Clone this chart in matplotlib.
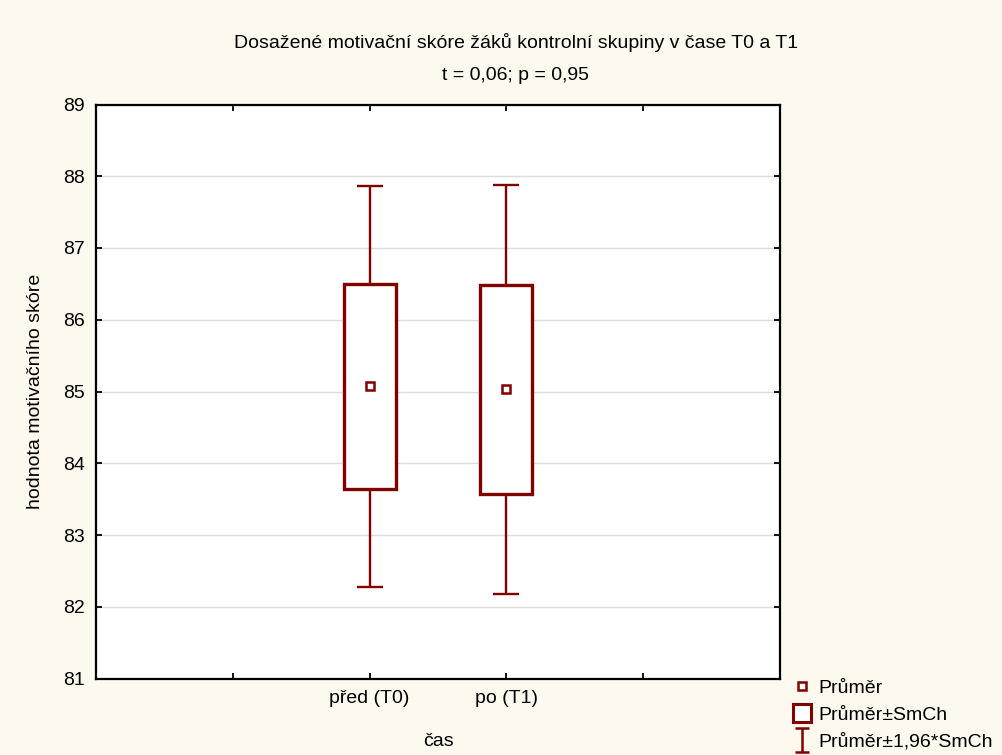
import matplotlib.pyplot as plt
from matplotlib.lines import Line2D
from matplotlib.path import Path
import numpy as np

plt.rcParams['font.family'] = ['Liberation Sans', 'DejaVu Sans']

groups = ["před (T0)", "po (T1)"]
means = [85.07, 85.03]
se = [1.425, 1.455]
positions = [2, 3]

dark_red = "#800000"
bg = "#fef9ee"

fig = plt.figure(figsize=(10.03, 7.55), dpi=100, facecolor=bg)
ax = fig.add_axes([96 / 1003, 1 - 678.5 / 755, (780 - 96) / 1003, (678.5 - 104.5) / 755])
ax.set_facecolor("white")

means = np.array(means)
se = np.array(se)

# whiskers: mean +- 1.96*SE
ax.errorbar(positions, means, yerr=1.96 * se, fmt="none", ecolor=dark_red,
            elinewidth=1.7, capsize=9.7, capthick=1.7, zorder=2)
# boxes: mean +- SE
ax.bar(positions, 2 * se, bottom=means - se, width=0.38, facecolor="white",
       edgecolor=dark_red, linewidth=2.4, zorder=3)
# mean markers
ax.plot(positions, means, linestyle="none", marker="s", markersize=6,
        markerfacecolor="white", markeredgecolor=dark_red, markeredgewidth=1.8, zorder=4)

ax.set_xlim(0, 5)
ax.set_ylim(81, 89)
ax.set_xticks([1, 2, 3, 4])
ax.set_xticklabels([""] + groups + [""])
ax.set_yticks(range(81, 90))
ax.yaxis.grid(True, color="#dcdcdc", linewidth=1.0, zorder=0)
ax.set_axisbelow(True)
ax.tick_params(direction="in", length=4.5, width=1.3, top=True, right=True,
               labelsize=14, pad=8)
for spine in ax.spines.values():
    spine.set_linewidth(1.6)

ax.set_xlabel("čas", fontsize=14, labelpad=19)
ax.set_ylabel("hodnota motivačního skóre", fontsize=14, labelpad=14)

fig.text(516 / 1003, 1 - 42 / 755, "Dosažené motivační skóre žáků kontrolní skupiny v čase T0 a T1",
         ha="center", va="center", fontsize=14)
fig.text(516 / 1003, 1 - 75 / 755, "t = 0,06; p = 0,95", ha="center", va="center", fontsize=14)

# I-beam marker for the +-1.96*SE entry
ibeam = Path([(-0.6, 1), (0.6, 1), (0, 1), (0, -1), (-0.6, -1), (0.6, -1)],
             [Path.MOVETO, Path.LINETO, Path.MOVETO, Path.LINETO, Path.MOVETO, Path.LINETO])
handles = [
    Line2D([], [], linestyle="none", marker="s", markersize=6, markerfacecolor="white",
           markeredgecolor=dark_red, markeredgewidth=1.8),
    Line2D([], [], linestyle="none", marker="s", markersize=13, markerfacecolor="white",
           markeredgecolor=dark_red, markeredgewidth=2.2),
    Line2D([], [], linestyle="none", marker=ibeam, markersize=17, markerfacecolor="none",
           markeredgecolor=dark_red, markeredgewidth=1.8),
]
labels = ["Průměr", "Průměr±SmCh", "Průměr±1,96*SmCh"]
fig.legend(handles, labels, loc="lower left", bbox_to_anchor=(779 / 1003, -0.012),
           frameon=False, fontsize=14, handlelength=1.0, handletextpad=0.3,
           labelspacing=0.48, borderpad=0.2)

fig.savefig("out.png", dpi=100, facecolor=bg)
